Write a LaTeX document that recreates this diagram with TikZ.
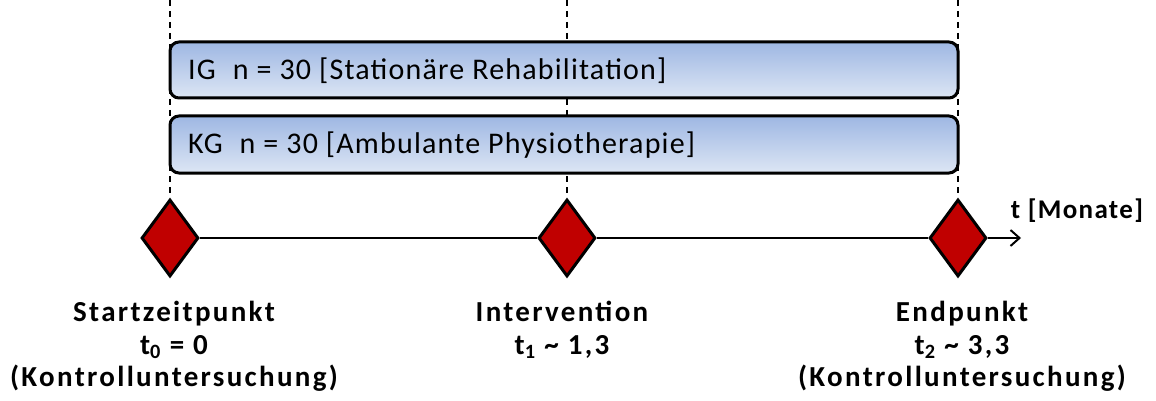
\documentclass[tikz,border=0pt]{standalone}
\usepackage{fontspec}
\setmainfont{Carlito}
\newfontfamily\barfont[LetterSpace=4]{Carlito}
\newfontfamily\lblfont[LetterSpace=8]{Carlito}
\newfontfamily\axfont[LetterSpace=5]{Carlito}
\usetikzlibrary{shapes.geometric,arrows.meta}
\definecolor{bartop}{RGB}{158,183,227}
\definecolor{barbot}{RGB}{221,230,244}
\definecolor{dred}{RGB}{192,0,0}
\tikzset{
  bar/.style={draw=black, line width=3pt, rounded corners=9pt, top color=bartop, bottom color=barbot},
  bartext/.style={anchor=west, inner sep=0pt, font=\barfont\fontsize{30}{32}\selectfont},
  milestone/.style={diamond, draw=black, fill=dred, line width=3pt, inner sep=0pt, minimum width=57pt, minimum height=77pt},
  guide/.style={dashed, dash pattern=on 6pt off 5pt, line width=1.3pt},
  axis/.style={line width=2pt},
  lbl/.style={anchor=north, align=center, inner sep=0pt, font=\lblfont\bfseries\fontsize{29}{32.5}\selectfont},
}
\begin{document}
\begin{tikzpicture}[x=1pt,y=-1pt]
\useasboundingbox (0,0) rectangle (1156,401);
% guide lines
\coordinate (g1) at (170,0);
\coordinate (g2) at (567,0);
\coordinate (g3) at (958,0);
\node[milestone] (d1) at (170,238) {};
\node[milestone] (d2) at (567,238) {};
\node[milestone] (d3) at (958,238) {};
\draw[guide] (g1) -- (d1.north);
\draw[guide] (g2) -- (d2.north);
\draw[guide] (g3) -- (d3.north);
% bars
\path[bar] (170,42) rectangle (958,98);
\node[bartext] (ig) at (188,71) {IG\hspace{0.3em} n = 30 [Stationäre Rehabilitation]};
\path[bar] (170,116) rectangle (958,173);
\node[bartext] (kg) at (188,145) {KG\hspace{0.3em} n = 30 [Ambulante Physiotherapie]};
% axis
\coordinate (tend) at (1021,238);
\draw[axis] (d1.east) -- (d2.west);
\draw[axis] (d2.east) -- (d3.west);
\draw[axis, -{Straight Barb[length=9pt,width=16pt,line width=2pt]}] (d3.east) -- (tend);
\node[anchor=base, inner sep=0pt, font=\axfont\bfseries\fontsize{27}{30}\selectfont] (tm) at (1077,218) {t [Monate]};
% labels
\node[lbl] (l1) at (174,301) {Startzeitpunkt\\t\textsubscript{0} =  0\\(Kontrolluntersuchung)};
\node[lbl] (l2) at (562,301) {Intervention\\t\textsubscript{1} \textasciitilde{} 1,3};
\node[lbl] (l3) at (962,301) {Endpunkt\\t\textsubscript{2} \textasciitilde{} 3,3\\(Kontrolluntersuchung)};
\end{tikzpicture}
\end{document}
